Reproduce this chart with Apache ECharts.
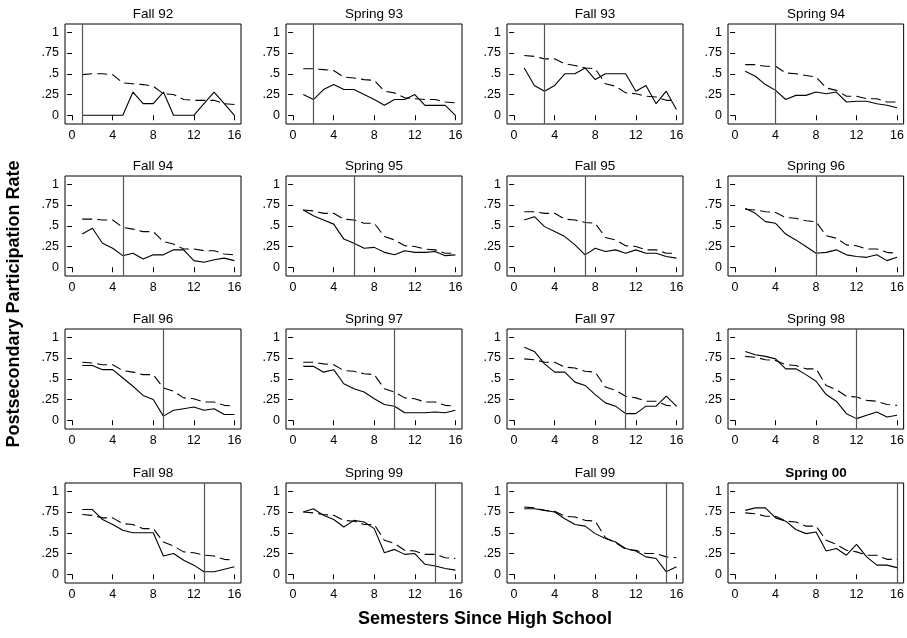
<!DOCTYPE html>
<html><head><meta charset="utf-8">
<script src="https://cdn.jsdelivr.net/npm/echarts@6/dist/echarts.min.js"></script>
<style>html,body{margin:0;padding:0;background:#fff}#c{width:907px;height:638px}</style>
</head><body><div id="c"></div>
<script>
const semesters = [1,2,3,4,5,6,7,8,9,10,11,12,13,14,15,16];
const xTicks = [0,4,8,12,16];
const yTicks = [0,0.25,0.5,0.75,1];
const yTickLabels = ['0','.25','.5','.75','1'];
const panelTitles = ['Fall 92','Spring 93','Fall 93','Spring 94','Fall 94','Spring 95','Fall 95','Spring 96',
  'Fall 96','Spring 97','Fall 97','Spring 98','Fall 98','Spring 99','Fall 99','Spring 00'];
const boldTitle = 'Spring 00';
const markerSemester = [1,2,3,4,5,6,7,8,9,10,11,12,13,14,15,16];
const yAxisTitle = 'Postsecondary Participation Rate';
const xAxisTitle = 'Semesters Since High School';

const solidRates = [
  [0,0,0,0,0,.28,.14,.14,.28,0,0,0,.14,.28,.14,0],
  [.25,.19,.31,.37,.31,.31,.25,.19,.12,.19,.19,.25,.12,.12,.12,0],
  [.57,.36,.29,.36,.50,.50,.57,.43,.50,.50,.50,.29,.36,.14,.29,.07],
  [.53,.47,.37,.30,.19,.24,.24,.28,.26,.28,.16,.17,.17,.14,.12,.09],
  [.40,.47,.29,.23,.14,.17,.10,.15,.15,.21,.21,.08,.06,.09,.11,.08],
  [.69,.62,.57,.52,.34,.29,.23,.24,.18,.15,.20,.18,.18,.19,.14,.15],
  [.57,.61,.49,.43,.37,.27,.15,.23,.19,.21,.17,.21,.17,.17,.13,.11],
  [.71,.65,.55,.53,.40,.33,.25,.17,.18,.21,.15,.13,.12,.15,.08,.12],
  [.66,.66,.61,.61,.51,.41,.30,.25,.05,.12,.14,.16,.12,.14,.07,.07],
  [.65,.65,.58,.61,.44,.38,.34,.26,.19,.17,.09,.09,.09,.10,.09,.12],
  [.88,.83,.68,.58,.58,.46,.42,.31,.21,.17,.08,.08,.17,.17,.29,.17],
  [.83,.79,.77,.74,.62,.62,.55,.47,.31,.23,.08,.02,.06,.10,.04,.06],
  [.78,.78,.66,.60,.53,.50,.50,.50,.22,.25,.17,.11,.03,.03,.06,.09],
  [.75,.79,.71,.66,.57,.65,.63,.55,.26,.30,.24,.25,.12,.10,.07,.05],
  [.79,.79,.77,.75,.67,.60,.58,.49,.43,.39,.31,.28,.21,.19,.03,.09],
  [.77,.80,.80,.68,.64,.54,.49,.51,.28,.31,.23,.36,.21,.11,.11,.08]
];
const dashedRates = [
  [.49,.50,.50,.49,.39,.38,.37,.35,.26,.25,.19,.18,.18,.18,.14,.13],
  [.56,.56,.55,.54,.46,.45,.43,.42,.29,.27,.21,.20,.19,.19,.16,.15],
  [.72,.71,.68,.68,.62,.60,.57,.56,.38,.35,.27,.26,.23,.22,.18,.18],
  [.61,.61,.59,.59,.51,.50,.48,.46,.33,.30,.23,.23,.20,.20,.16,.16],
  [.58,.58,.57,.57,.48,.46,.43,.43,.31,.28,.22,.22,.20,.20,.16,.15],
  [.69,.68,.65,.65,.58,.57,.53,.53,.37,.33,.26,.25,.22,.21,.17,.17],
  [.67,.67,.65,.65,.58,.57,.54,.53,.36,.33,.26,.25,.21,.21,.17,.17],
  [.70,.69,.67,.66,.60,.59,.56,.55,.38,.35,.27,.26,.22,.22,.18,.17],
  [.70,.69,.67,.67,.60,.58,.55,.55,.39,.35,.27,.26,.22,.22,.18,.17],
  [.70,.70,.68,.67,.60,.59,.56,.55,.38,.34,.27,.26,.22,.22,.18,.17],
  [.74,.73,.70,.70,.64,.63,.59,.58,.40,.36,.29,.27,.23,.23,.18,.17],
  [.77,.76,.73,.72,.67,.66,.62,.62,.42,.37,.29,.28,.24,.23,.19,.18],
  [.72,.71,.68,.68,.61,.60,.55,.55,.39,.34,.27,.26,.23,.22,.18,.17],
  [.75,.74,.72,.71,.65,.64,.60,.60,.41,.37,.29,.28,.24,.24,.20,.19],
  [.81,.80,.77,.76,.70,.69,.65,.64,.44,.38,.30,.29,.25,.25,.21,.20],
  [.74,.73,.70,.70,.64,.63,.58,.58,.41,.36,.29,.27,.23,.23,.18,.18]
];

const FONT = '"Liberation Sans", Arial, Helvetica, sans-serif';
const colLeft = [65, 286, 507, 728];
const rowTop = [24, 176, 329, 483];
const W = 176, H = 100;

const grids = [], xAxes = [], yAxes = [], series = [], titles = [];
panelTitles.forEach((t, i) => {
  const r = Math.floor(i / 4), c = i % 4;
  grids.push({left: colLeft[c], top: rowTop[r], width: W, height: H, show: true,
    borderColor: '#000', borderWidth: 1, backgroundColor: 'transparent'});
  xAxes.push({type: 'value', gridIndex: i, min: -0.7, max: 16.65,
    splitLine: {show: false}, axisLine: {show: false},
    axisTick: {show: true, customValues: xTicks, length: 5, lineStyle: {color: '#000', width: 1}},
    axisLabel: {customValues: xTicks, fontSize: 12.5, color: '#000', margin: 5, fontFamily: FONT}});
  yAxes.push({type: 'value', gridIndex: i, min: -0.105, max: 1.1,
    splitLine: {show: false}, axisLine: {show: false},
    axisTick: {show: true, customValues: yTicks, length: 5, lineStyle: {color: '#000', width: 1}},
    axisLabel: {customValues: yTicks, fontSize: 12.5, color: '#000', margin: 6, fontFamily: FONT,
      formatter: v => yTickLabels[yTicks.indexOf(v)]}});
  series.push({type: 'line', xAxisIndex: i, yAxisIndex: i, symbol: 'none', animation: false,
    data: semesters.map((s, j) => [s, dashedRates[i][j]]),
    lineStyle: {color: '#000', width: 1.1, type: [10, 5]}});
  series.push({type: 'line', xAxisIndex: i, yAxisIndex: i, symbol: 'none', animation: false,
    data: semesters.map((s, j) => [s, solidRates[i][j]]),
    lineStyle: {color: '#000', width: 1.1},
    markLine: {silent: true, symbol: ['none', 'none'], label: {show: false}, animation: false,
      lineStyle: {color: '#555', width: 1.2, type: 'solid'},
      data: [{xAxis: markerSemester[i]}]}});
  titles.push({text: t, left: colLeft[c] + W / 2, top: rowTop[r] - 17, textAlign: 'center',
    padding: 0,
    textStyle: {fontSize: 13.5, fontWeight: t === boldTitle ? 'bold' : 'normal', color: '#000', fontFamily: FONT}});
});
titles.push({text: xAxisTitle, left: 485, top: 610, textAlign: 'center', padding: 0,
  textStyle: {fontSize: 18, fontWeight: 'bold', color: '#000', fontFamily: FONT}});

const chart = echarts.init(document.getElementById('c'), null, {renderer: 'canvas'});
chart.setOption({
  backgroundColor: '#fff',
  animation: false,
  title: titles,
  grid: grids, xAxis: xAxes, yAxis: yAxes, series: series,
  graphic: [{type: 'text', x: 14, y: 304, rotation: Math.PI / 2,
    style: {text: yAxisTitle, fill: '#000', font: 'bold 18px ' + FONT,
      textAlign: 'center', textVerticalAlign: 'middle', align: 'center', verticalAlign: 'middle'}}]
});
</script></body></html>
